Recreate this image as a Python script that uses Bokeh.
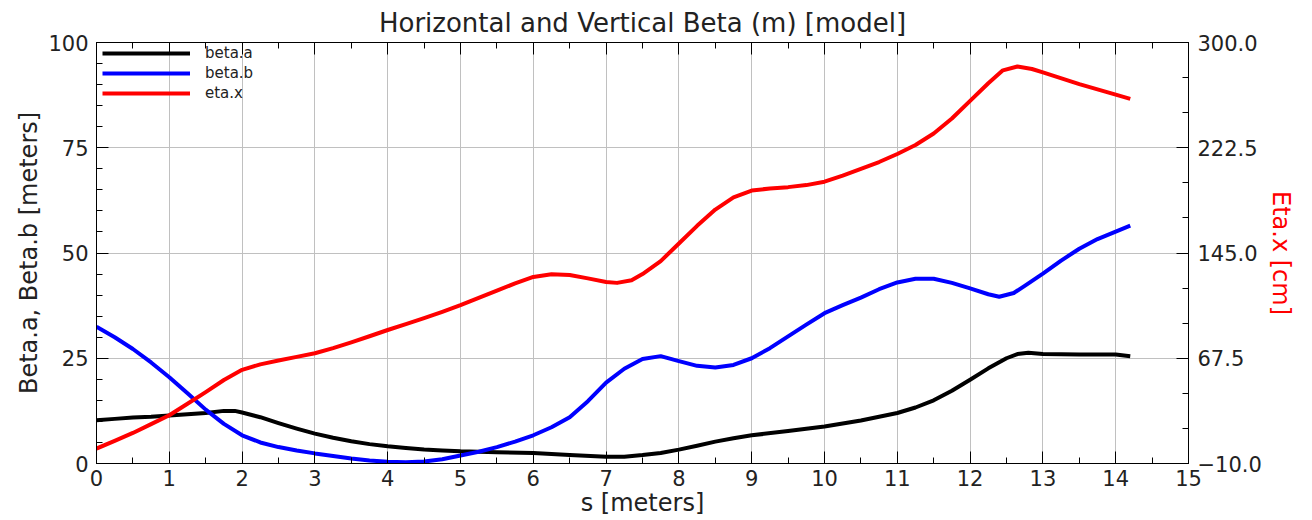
from bokeh.plotting import figure
from bokeh.models import (Range1d, LinearAxis, FixedTicker, CustomJSTickFormatter,
                          Legend, LegendItem)
from bokeh.embed import file_html
from bokeh.resources import INLINE

# Lattice functions along s [m]
s_a = [0, 0.25, 0.5, 0.75, 1, 1.25, 1.5, 1.75, 1.9, 2, 2.25, 2.5, 2.75, 3, 3.25, 3.5,
       3.75, 4, 4.25, 4.5, 4.75, 5, 5.5, 6, 6.5, 7, 7.25, 7.5, 7.75, 8, 8.25, 8.5, 8.75,
       9, 9.5, 10, 10.5, 11, 11.25, 11.5, 11.75, 12, 12.25, 12.5, 12.65, 12.8, 13, 13.5,
       14, 14.2]
beta_a = [10.3, 10.6, 10.9, 11.1, 11.4, 11.7, 12.0, 12.5, 12.5, 12.1, 11.0, 9.6, 8.3,
          7.1, 6.1, 5.3, 4.6, 4.1, 3.7, 3.3, 3.1, 2.9, 2.7, 2.5, 2.0, 1.6, 1.6, 2.0, 2.5,
          3.3, 4.2, 5.2, 6.0, 6.7, 7.7, 8.8, 10.2, 12.0, 13.3, 15.0, 17.3, 19.9, 22.6,
          25.0, 26.0, 26.3, 26.0, 25.9, 25.9, 25.5]

s_b = [0, 0.25, 0.5, 0.75, 1, 1.25, 1.5, 1.75, 2, 2.25, 2.5, 2.75, 3, 3.25, 3.5, 3.75,
       4, 4.25, 4.5, 4.75, 5, 5.25, 5.5, 5.75, 6, 6.25, 6.5, 6.75, 7, 7.25, 7.5, 7.75, 8,
       8.25, 8.5, 8.75, 9, 9.25, 9.5, 9.75, 10, 10.25, 10.5, 10.75, 11, 11.25, 11.5,
       11.75, 12, 12.25, 12.4, 12.6, 12.75, 13, 13.25, 13.5, 13.75, 14, 14.2]
beta_b = [32.5, 30.0, 27.2, 24.0, 20.5, 16.7, 12.8, 9.4, 6.7, 5.0, 3.9, 3.1, 2.4, 1.8,
          1.2, 0.7, 0.4, 0.3, 0.5, 1.0, 1.9, 2.8, 3.9, 5.2, 6.7, 8.6, 11.0, 14.8, 19.2,
          22.5, 24.8, 25.5, 24.3, 23.2, 22.8, 23.4, 25.0, 27.4, 30.2, 33.0, 35.7, 37.6,
          39.4, 41.4, 43.0, 43.9, 43.9, 42.9, 41.6, 40.2, 39.6, 40.5, 42.2, 45.1, 48.2,
          51.0, 53.3, 55.1, 56.5]

s_x = [0, 0.25, 0.5, 0.75, 1, 1.25, 1.5, 1.75, 2, 2.25, 2.5, 2.75, 3, 3.25, 3.5, 3.75,
       4, 4.25, 4.5, 4.75, 5, 5.25, 5.5, 5.75, 6, 6.25, 6.5, 6.75, 7, 7.15, 7.35, 7.5,
       7.75, 8, 8.25, 8.5, 8.75, 9, 9.25, 9.5, 9.75, 10, 10.25, 10.5, 10.75, 11, 11.25,
       11.5, 11.75, 12, 12.25, 12.45, 12.65, 12.85, 13, 13.5, 14, 14.2]
eta_x = [1.0, 6.7, 12.5, 19.0, 25.5, 34.0, 42.6, 51.5, 59.0, 63.0, 65.8, 68.5, 71.2,
         75.0, 79.2, 83.7, 88.3, 92.6, 97.0, 101.7, 106.6, 111.9, 117.3, 122.6, 127.4,
         129.4, 128.8, 126.3, 123.6, 123.0, 125.0, 129.5, 139.0, 152.0, 165.0, 177.0,
         186.0, 191.0, 192.5, 193.5, 195.0, 197.5, 202.0, 207.0, 212.0, 217.9, 224.5,
         233.0, 244.0, 257.0, 270.0, 279.5, 282.3, 280.5, 278.0, 269.4, 261.6, 258.5]

# Axis ticks
x_major = list(range(0, 16))
x_minor = [i * 0.5 for i in range(0, 31)]
y_major = [0, 25, 50, 75, 100]
y_minor = list(range(0, 101, 5))
eta_major = [-10.0, 67.5, 145.0, 222.5, 300.0]

FONT = "DejaVu Sans"
TXT = "#222222"

p = figure(width=1312, height=520, x_range=Range1d(0, 15), y_range=Range1d(0, 100),
           output_backend="svg", toolbar_location=None,
           min_border_left=96, min_border_right=124, min_border_top=40, min_border_bottom=57,
           title="Horizontal and Vertical Beta (m) [model]",
           x_axis_label="s [meters]", y_axis_label="Beta.a, Beta.b [meters]")
p.extra_y_ranges = {"eta": Range1d(-10, 300)}

p.title.align = "center"
p.title.text_font = FONT
p.title.text_font_size = "26px"
p.title.text_font_style = "normal"
p.title.text_color = TXT

p.background_fill_color = "white"
p.border_fill_color = "white"
p.outline_line_color = "black"
p.outline_line_width = 1


def style_axis(ax):
    ax.axis_line_color = "black"
    ax.axis_line_width = 1
    ax.major_tick_line_color = "black"
    ax.minor_tick_line_color = "black"
    ax.major_tick_in = 12
    ax.major_tick_out = 0
    ax.minor_tick_in = 6
    ax.minor_tick_out = 0
    ax.major_label_text_font = FONT
    ax.major_label_text_color = TXT
    ax.major_label_text_font_size = "21px"
    ax.major_label_standoff = 6
    ax.axis_label_text_font = FONT
    ax.axis_label_text_font_style = "normal"
    ax.axis_label_text_font_size = "24px"
    ax.axis_label_text_color = TXT
    ax.axis_label_standoff = 2


xax = p.xaxis[0]
xax.ticker = FixedTicker(ticks=x_major, minor_ticks=x_minor)
style_axis(xax)
xax.axis_label_standoff = 0

yax = p.yaxis[0]
yax.ticker = FixedTicker(ticks=y_major, minor_ticks=y_minor)
style_axis(yax)
yax.major_label_standoff = 8

# mirrored tick marks along the top edge, without labels
top = LinearAxis(ticker=FixedTicker(ticks=x_major, minor_ticks=x_minor),
                 formatter=CustomJSTickFormatter(code="return '';"))
style_axis(top)
top.major_label_standoff = 0
p.add_layout(top, "above")

eta_minor = [eta_major[0] + k * (eta_major[1] - eta_major[0]) / 3 for k in range(13)]
right = LinearAxis(y_range_name="eta", axis_label="Eta.x [cm]",
                   ticker=FixedTicker(ticks=eta_major, minor_ticks=eta_minor),
                   formatter=CustomJSTickFormatter(code="""
                       const t = Math.abs(tick).toFixed(1);
                       return (tick < 0 ? '\u2212' : '') + t;
                   """))
style_axis(right)
right.axis_label_text_color = "#ff0000"
right.major_label_standoff = 9
p.add_layout(right, "right")

p.xgrid.ticker = FixedTicker(ticks=list(range(1, 15)))
p.ygrid.ticker = FixedTicker(ticks=[25, 50, 75])
for g in (p.xgrid[0], p.ygrid[0]):
    g.grid_line_color = "#c0c0c0"
    g.grid_line_width = 1

ra = p.line(s_a, beta_a, line_color="black", line_width=4, line_join="round")
rb = p.line(s_b, beta_b, line_color="#0000ff", line_width=4, line_join="round")
rx = p.line(s_x, eta_x, line_color="#ff0000", line_width=4, line_join="round",
            y_range_name="eta")

legend = Legend(items=[LegendItem(label="beta.a", renderers=[ra]),
                       LegendItem(label="beta.b", renderers=[rb]),
                       LegendItem(label="eta.x", renderers=[rx])],
                location=(6, 361), orientation="vertical",
                glyph_width=88, glyph_height=18, label_height=18, spacing=2,
                padding=0, margin=0, label_standoff=15,
                label_text_font=FONT, label_text_font_size="15px", label_text_color=TXT,
                background_fill_alpha=0, border_line_alpha=0)
p.add_layout(legend)

open("out.html", "w").write(file_html(p, INLINE))
